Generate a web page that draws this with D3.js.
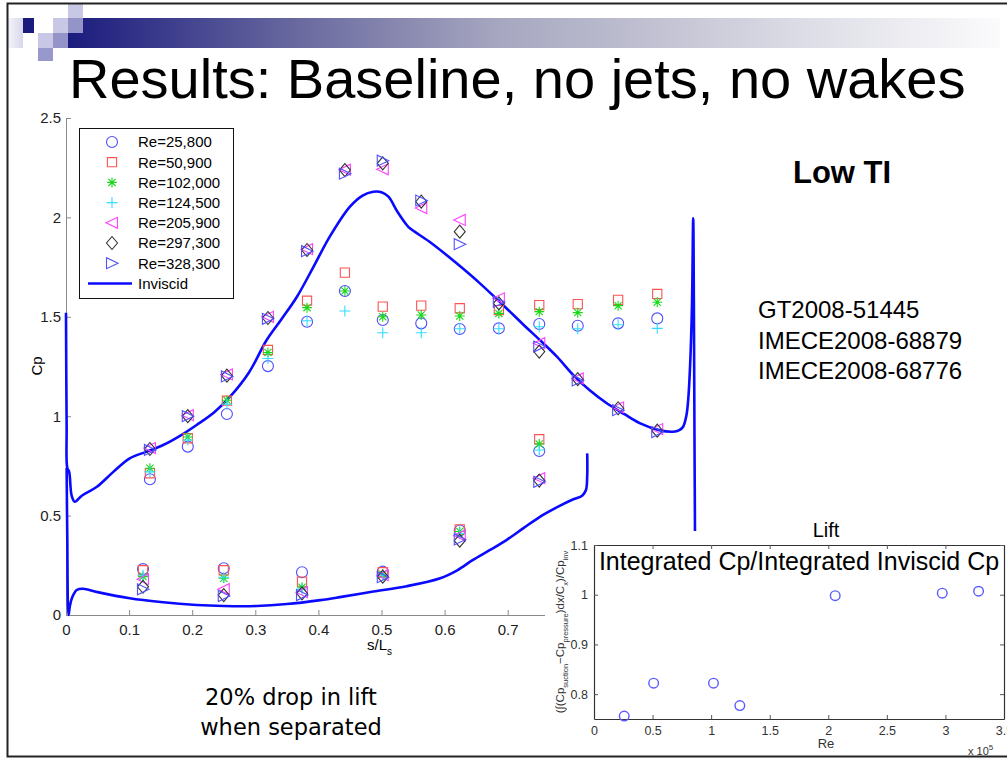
<!DOCTYPE html>
<html>
<head>
<meta charset="utf-8">
<script src="https://cdn.jsdelivr.net/npm/d3@7"></script>
<style>
  body { margin: 0; background: #fff; }
  text { font-family: "Liberation Sans", Arial, sans-serif; }
</style>
</head>
<body>
<script>
// ---- data ----
var reLabels = ['Re=25,800', 'Re=50,900', 'Re=102,000', 'Re=124,500', 'Re=205,900', 'Re=297,300', 'Re=328,300'];

// s/Ls of the pressure taps
var sSuction  = [0.133, 0.193, 0.255, 0.32, 0.382, 0.442, 0.502, 0.563, 0.624, 0.686, 0.75, 0.811, 0.875, 0.937];
var sPressure = [0.122, 0.25, 0.374, 0.502, 0.624, 0.75];

// Cp on suction side, one array per Re
var cpSuc25800  = [0.683, 0.847, 1.011, 1.252, 1.475, 1.63, 1.484, 1.467, 1.439, 1.442, 1.464, 1.455, 1.467, 1.492];
var cpSuc50900  = [0.713, 0.889, 1.078, 1.333, 1.581, 1.722, 1.551, 1.556, 1.543, 1.534, 1.559, 1.564, 1.585, 1.615];
var cpSuc102000 = [0.738, 0.895, 1.08, 1.32, 1.546, 1.63, 1.50, 1.509, 1.504, 1.517, 1.526, 1.521, 1.556, 1.573];
var cpSuc124500 = [0.72, 0.88, 1.06, 1.29, 1.48, 1.529, 1.42, 1.42, 1.44, 1.44, 1.45, 1.44, 1.46, 1.442];
var cpSuc205900 = [0.84, 1.005, 1.21, 1.50, 1.84, 2.24, 2.242, 2.047, 1.987, 1.593, 1.367, 1.19, 1.045, 0.935];
var cpSuc297300 = [0.835, 1.0, 1.204, 1.494, 1.836, 2.238, 2.272, 2.079, 1.928, 1.568, 1.325, 1.186, 1.04, 0.927];
var cpSuc328300 = [0.83, 1.0, 1.2, 1.49, 1.83, 2.22, 2.285, 2.085, 1.865, 1.575, 1.35, 1.18, 1.03, 0.92];

// Cp on pressure side
var cpPre25800  = [0.231, 0.235, 0.215, 0.218, 0.425, 0.825];
var cpPre50900  = [0.225, 0.225, 0.168, 0.215, 0.431, 0.884];
var cpPre102000 = [0.193, 0.185, 0.14, 0.205, 0.42, 0.86];
var cpPre124500 = [0.2, 0.19, 0.13, 0.2, 0.41, 0.83];
var cpPre205900 = [0.18, 0.13, 0.115, 0.2, 0.40, 0.688];
var cpPre297300 = [0.142, 0.10, 0.109, 0.193, 0.374, 0.676];
var cpPre328300 = [0.129, 0.095, 0.10, 0.19, 0.38, 0.67];

// inviscid prediction [s/Ls, Cp]
var invSuction = [[0, 1.52], [0.001, 0.95], [0.002, 0.74], [0.005, 0.72], [0.009, 0.6], [0.014, 0.57],
  [0.025, 0.6], [0.049, 0.645], [0.075, 0.72], [0.101, 0.788], [0.128, 0.822], [0.154, 0.855],
  [0.18, 0.9], [0.207, 0.956], [0.235, 1.02], [0.26, 1.098], [0.29, 1.22], [0.318, 1.383],
  [0.342, 1.49], [0.366, 1.601], [0.392, 1.75], [0.418, 1.903], [0.45, 2.054],
  [0.47, 2.11], [0.487, 2.129], [0.5, 2.127], [0.511, 2.104], [0.525, 2.03], [0.54, 1.962],
  [0.545, 1.945], [0.575, 1.88], [0.603, 1.811], [0.63, 1.74], [0.656, 1.668], [0.698, 1.543],
  [0.725, 1.46], [0.751, 1.383], [0.778, 1.3], [0.804, 1.207], [0.83, 1.13], [0.857, 1.065],
  [0.885, 1.01], [0.91, 0.964], [0.94, 0.93], [0.962, 0.922], [0.972, 0.93],
  [0.978, 0.947], [0.983, 1.0], [0.986, 1.08], [0.989, 1.25], [0.992, 1.55], [0.994, 1.995],
  [0.995, 1.6], [0.996, 0.9], [0.997, 0.3]];
var invPressure = [[0.001, 0.74], [0.002, 0.4], [0.004, 0.0], [0.006, 0.042], [0.01, 0.09],
  [0.017, 0.126], [0.027, 0.132], [0.05, 0.115], [0.101, 0.084], [0.15, 0.065], [0.207, 0.05],
  [0.25, 0.045], [0.302, 0.045], [0.35, 0.055], [0.403, 0.075], [0.434, 0.09], [0.487, 0.118],
  [0.54, 0.145], [0.593, 0.185], [0.62, 0.225], [0.645, 0.277], [0.672, 0.327], [0.698, 0.377],
  [0.725, 0.437], [0.751, 0.494], [0.78, 0.545], [0.804, 0.582], [0.818, 0.6], [0.824, 0.629],
  [0.826, 0.7], [0.826, 0.813]];

var sTicks = [0, 0.1, 0.2, 0.3, 0.4, 0.5, 0.6, 0.7, 0.8, 0.9, 1];
var cpTicks = [0, 0.5, 1, 1.5, 2, 2.5];

// lift inset
var liftRe = [0.258, 0.509, 1.02, 1.245, 2.059, 2.973, 3.283];   // x 10^5
var liftRatio = [0.756, 0.822, 0.822, 0.777, 0.998, 1.003, 1.007];
var reTicks = [0, 0.5, 1, 1.5, 2, 2.5, 3, 3.5];
var ratioTicks = [0.8, 0.9, 1, 1.1];

var refLines = ['GT2008-51445', 'IMECE2008-68879', 'IMECE2008-68776'];

// matlab style tick text: 0, 0.5, 1 ...
var plain = function(d) { return String(d); };

// ---- setup ----
var svg = d3.select('body').append('svg')
    .attr('width', 1007)
    .attr('height', 759);

var defs = svg.append('defs');
var grad = defs.append('linearGradient')
    .attr('id', 'band')
    .attr('gradientUnits', 'userSpaceOnUse')
    .attr('x1', 68).attr('x2', 1000).attr('y1', 0).attr('y2', 0);
[[0, '#1b1b7e'], [0.25, '#6a6aa0'], [0.46, '#a6a6c0'], [0.61, '#bebed0'], [0.785, '#dcdce6'], [1, '#fbfbfc']]
  .forEach(function(s) { grad.append('stop').attr('offset', s[0]).attr('stop-color', s[1]); });
var gradL = defs.append('linearGradient').attr('id', 'bandL');
gradL.append('stop').attr('offset', 0).attr('stop-color', '#f4f4fa');
gradL.append('stop').attr('offset', 1).attr('stop-color', '#d8d8ec');

// header band + squares
svg.append('rect').attr('x', 8).attr('y', 18).attr('width', 15).attr('height', 30).attr('fill', 'url(#bandL)');
svg.append('rect').attr('x', 68).attr('y', 18).attr('width', 932).attr('height', 30).attr('fill', 'url(#band)');
var squares = [
  [68, 4, 15, 14, '#c8c8e6'],
  [23, 18, 11, 15, '#1b1b7e'],
  [53, 18, 15, 15, '#c8c8e6'],
  [68, 18, 15, 15, '#9494c8'],
  [38, 33, 15, 15, '#c8c8e6'],
  [53, 33, 15, 15, '#9494c8'],
  [38, 48, 15, 13, '#9898cc']
];
svg.selectAll('rect.sq').data(squares).enter().append('rect')
    .attr('class', 'sq')
    .attr('x', function(d) { return d[0]; })
    .attr('y', function(d) { return d[1]; })
    .attr('width', function(d) { return d[2]; })
    .attr('height', function(d) { return d[3]; })
    .attr('fill', function(d) { return d[4]; });

svg.append('text')
    .attr('x', 69).attr('y', 98)
    .style('font-size', '56px')
    .text('Results: Baseline, no jets, no wakes');

// ---- main Cp chart ----
var x = d3.scaleLinear().domain([0, 1]).range([66, 697]);
var y = d3.scaleLinear().domain([0, 2.5]).range([615, 118]);

var main = svg.append('g');

var yAxis = main.append('g')
    .attr('transform', 'translate(66,0)')
    .call(d3.axisLeft(y).tickValues(cpTicks).tickFormat(plain).tickSizeInner(-5).tickSizeOuter(0).tickPadding(5));
var xAxis = main.append('g')
    .attr('transform', 'translate(0,615)')
    .call(d3.axisBottom(x).tickValues(sTicks).tickFormat(plain).tickSizeInner(-5).tickSizeOuter(0).tickPadding(9));
[yAxis, xAxis].forEach(function(a) {
  a.select('.domain').attr('stroke', '#8a8a8a');
  a.selectAll('.tick line').attr('stroke', '#8a8a8a');
  a.selectAll('.tick text').attr('fill', '#222').style('font-size', '15px')
      .style('font-family', '"Liberation Sans", Arial, sans-serif');
});

main.append('text')
    .attr('transform', 'translate(42,366) rotate(-90)')
    .attr('text-anchor', 'middle')
    .style('font-size', '15px')
    .text('Cp');
var xl = main.append('text').attr('x', 367).attr('y', 650).style('font-size', '15px').text('s/L');
xl.append('tspan').attr('dy', 5).style('font-size', '10px').text('s');

// inviscid lines
var line = d3.line()
    .x(function(d) { return x(d[0]); })
    .y(function(d) { return y(d[1]); })
    .curve(d3.curveCatmullRom.alpha(0.5));
[invSuction, invPressure].forEach(function(d) {
  main.append('path')
      .attr('d', line(d))
      .attr('fill', 'none')
      .attr('stroke', '#0a0aff')
      .attr('stroke-width', 2.6)
      .attr('stroke-linejoin', 'round');
});

// matlab-ish markers
function markerPath(type) {
  switch (type) {
    case 'circle': return 'M5.5,0A5.5,5.5 0 1,1 -5.5,0A5.5,5.5 0 1,1 5.5,0Z';
    case 'square': return 'M-4.6,-4.6H4.6V4.6H-4.6Z';
    case 'star': return 'M-5,0H5M0,-5V5M-3.6,-3.6L3.6,3.6M-3.6,3.6L3.6,-3.6';
    case 'plus': return 'M-5.5,0H5.5M0,-5.5V5.5';
    case 'ltri': return 'M-6,0L5.5,-5.5L5.5,5.5Z';
    case 'diamond': return 'M0,-6.5L5.5,0L0,6.5L-5.5,0Z';
    case 'rtri': return 'M6,0L-5.5,-5.5L-5.5,5.5Z';
  }
}

var series = [
  {label: reLabels[0], marker: 'circle', color: '#4d4dff', suc: cpSuc25800, pre: cpPre25800},
  {label: reLabels[1], marker: 'square', color: '#ff5252', suc: cpSuc50900, pre: cpPre50900},
  {label: reLabels[2], marker: 'star', color: '#18d818', suc: cpSuc102000, pre: cpPre102000},
  {label: reLabels[3], marker: 'plus', color: '#30dcff', suc: cpSuc124500, pre: cpPre124500},
  {label: reLabels[4], marker: 'ltri', color: '#ff40ff', suc: cpSuc205900, pre: cpPre205900},
  {label: reLabels[5], marker: 'diamond', color: '#333333', suc: cpSuc297300, pre: cpPre297300},
  {label: reLabels[6], marker: 'rtri', color: '#5050ff', suc: cpSuc328300, pre: cpPre328300}
];

series.forEach(function(s) {
  var pts = s.suc.map(function(v, i) { return [sSuction[i], v]; })
    .concat(s.pre.map(function(v, i) { return [sPressure[i], v]; }));
  main.selectAll(null).data(pts).enter().append('path')
      .attr('transform', function(d) { return 'translate(' + x(d[0]) + ',' + y(d[1]) + ')'; })
      .attr('d', markerPath(s.marker))
      .attr('fill', 'none')
      .attr('stroke', s.color)
      .attr('stroke-width', 1.1);
});

// legend
var legend = main.append('g');
legend.append('rect')
    .attr('x', 79.5).attr('y', 128.5).attr('width', 154).attr('height', 170)
    .attr('fill', '#fff').attr('stroke', '#111').attr('stroke-width', 1);
series.forEach(function(s, i) {
  var ly = 142 + i * 20.2;
  legend.append('path')
      .attr('transform', 'translate(112,' + ly + ')')
      .attr('d', markerPath(s.marker))
      .attr('fill', 'none').attr('stroke', s.color).attr('stroke-width', 1.1);
  legend.append('text').attr('x', 138).attr('y', ly).attr('dy', '0.36em')
      .style('font-size', '15px').text(s.label);
});
legend.append('line').attr('x1', 88).attr('x2', 132).attr('y1', 283.5).attr('y2', 283.5)
    .attr('stroke', '#0a0aff').attr('stroke-width', 2.6);
legend.append('text').attr('x', 138).attr('y', 283.5).attr('dy', '0.36em')
    .style('font-size', '15px').text('Inviscid');

// side notes
svg.append('text').attr('x', 793).attr('y', 183)
    .style('font-size', '31px').style('font-weight', 'bold').text('Low TI');
svg.selectAll('text.ref').data(refLines).enter().append('text')
    .attr('class', 'ref')
    .attr('x', 758)
    .attr('y', function(d, i) { return 318 + i * 30.5; })
    .style('font-size', '24px')
    .text(function(d) { return d; });
svg.selectAll('text.note').data(['20% drop in lift', 'when separated']).enter().append('text')
    .attr('class', 'note')
    .attr('x', 291)
    .attr('y', function(d, i) { return 705 + i * 30; })
    .attr('text-anchor', 'middle')
    .style('font-family', '"DejaVu Sans", Tahoma, sans-serif')
    .style('font-size', '22.5px')
    .text(function(d) { return d; });

// ---- lift inset ----
var inset = svg.append('g');
inset.append('rect').attr('x', 545).attr('y', 531).attr('width', 462).attr('height', 226).attr('fill', '#fff');

var xi = d3.scaleLinear().domain([0, 3.5]).range([594, 1004]);
var yi = d3.scaleLinear().domain([0.75, 1.1]).range([719, 545]);

inset.append('text').attr('x', 826).attr('y', 537).attr('text-anchor', 'middle')
    .style('font-size', '20px').text('Lift');

var axes = [
  inset.append('g').attr('transform', 'translate(0,719)')
    .call(d3.axisBottom(xi).tickValues(reTicks).tickFormat(plain).tickSizeInner(-4).tickSizeOuter(0).tickPadding(7)),
  inset.append('g').attr('transform', 'translate(0,545)')
    .call(d3.axisTop(xi).tickValues(reTicks).tickSizeInner(-4).tickSizeOuter(0).tickFormat('')),
  inset.append('g').attr('transform', 'translate(594,0)')
    .call(d3.axisLeft(yi).tickValues(ratioTicks).tickFormat(plain).tickSizeInner(-4).tickSizeOuter(0).tickPadding(6)),
  inset.append('g').attr('transform', 'translate(1004,0)')
    .call(d3.axisRight(yi).tickValues(ratioTicks).tickSizeInner(-4).tickSizeOuter(0).tickFormat(''))
];
axes.forEach(function(a) {
  a.select('.domain').attr('stroke', '#333').attr('stroke-width', 1.2);
  a.selectAll('.tick line').attr('stroke', '#555');
  a.selectAll('.tick text').attr('fill', '#333').style('font-size', '12.5px')
      .style('font-family', '"Liberation Sans", Arial, sans-serif');
});

inset.append('text').attr('x', 799).attr('y', 570).attr('text-anchor', 'middle')
    .style('font-size', '25px').text('Integrated Cp/Integrated Inviscid Cp');

inset.selectAll('circle.lift').data(liftRe).enter().append('circle')
    .attr('class', 'lift')
    .attr('cx', function(d) { return xi(d); })
    .attr('cy', function(d, i) { return yi(liftRatio[i]); })
    .attr('r', 4.8)
    .attr('fill', 'none')
    .attr('stroke', '#5a5aff')
    .attr('stroke-width', 1.4);

inset.append('text').attr('x', 826).attr('y', 748).attr('text-anchor', 'middle')
    .style('font-size', '13px').attr('fill', '#333').text('Re');
var ex = inset.append('text').attr('x', 968).attr('y', 755).style('font-size', '11px').attr('fill', '#333').text('x 10');
ex.append('tspan').attr('dy', -5).style('font-size', '8px').text('5');

// rotated y label with subscripts
var yl = inset.append('text')
    .attr('transform', 'translate(564,632) rotate(-90)')
    .attr('text-anchor', 'middle')
    .attr('fill', '#333')
    .style('font-size', '11.5px');
[['(\u222B(Cp', 0], ['suction', 1], ['\u2212Cp', 0], ['pressure', 1], [')dx/C', 0], ['x', 1], [')/Cp', 0], ['inv', 1]]
  .forEach(function(p, i, arr) {
    var prevSub = i > 0 && arr[i - 1][1];
    var dy = p[1] ? 4 : (prevSub ? -4 : 0);
    yl.append('tspan').attr('dy', dy).style('font-size', p[1] ? '7.5px' : '11.5px').text(p[0]);
  });

// slide frame
svg.append('rect')
    .attr('x', 7.5).attr('y', 3.5).attr('width', 1010).attr('height', 753)
    .attr('fill', 'none').attr('stroke', '#222').attr('stroke-width', 2);
</script>
</body>
</html>
